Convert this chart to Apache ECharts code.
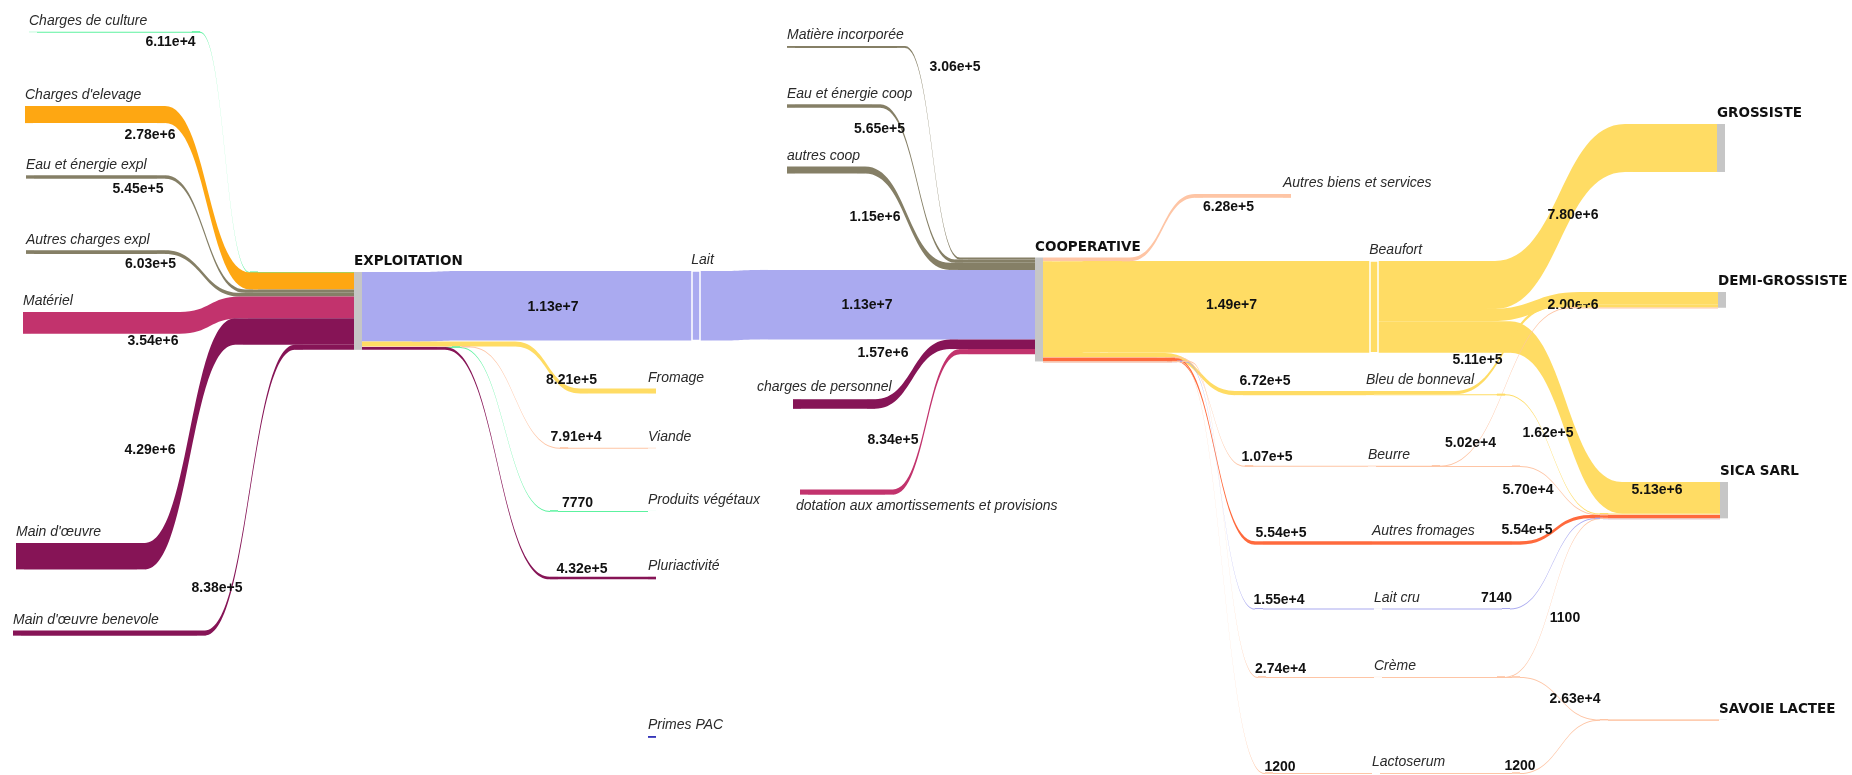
<!DOCTYPE html>
<html>
<head>
<meta charset="utf-8">
<script src="https://cdn.jsdelivr.net/npm/echarts@6/dist/echarts.min.js"></script>
<style>
  html, body { margin: 0; background: #fff; }
  #chart { width: 1852px; height: 775px; }
</style>
</head>
<body>
<div id="chart"></div>
<script>
// columns of the diagram, top to bottom inside each column
const colChargesExpl = ['Charges de culture', "Charges d'elevage", 'Eau et énergie expl', 'Autres charges expl', 'Matériel', "Main d'œuvre", "Main d'œuvre benevole"];
const colExploitation = ['EXPLOITATION'];
const colMiddle = ['Matière incorporée', 'Eau et énergie coop', 'autres coop', 'Lait', 'Fromage', 'Viande', 'Produits végétaux', 'Pluriactivité', 'charges de personnel', 'dotation aux amortissements et provisions', 'Primes PAC'];
const colCooperative = ['COOPERATIVE'];
const colProducts = ['Autres biens et services', 'Beaufort', 'Bleu de bonneval', 'Beurre', 'Autres fromages', 'Lait cru', 'Crème', 'Lactoserum'];
const colClients = ['GROSSISTE', 'DEMI-GROSSISTE', 'SICA SARL', 'SAVOIE LACTEE'];

// flows
const linkSource = [
  'Charges de culture', "Charges d'elevage", 'Eau et énergie expl', 'Autres charges expl', 'Matériel', "Main d'œuvre", "Main d'œuvre benevole",
  'EXPLOITATION', 'EXPLOITATION', 'EXPLOITATION', 'EXPLOITATION', 'EXPLOITATION',
  'Lait', 'Matière incorporée', 'Eau et énergie coop', 'autres coop', 'charges de personnel', 'dotation aux amortissements et provisions',
  'COOPERATIVE', 'COOPERATIVE', 'COOPERATIVE', 'COOPERATIVE', 'COOPERATIVE', 'COOPERATIVE', 'COOPERATIVE', 'COOPERATIVE',
  'Beaufort', 'Beaufort', 'Beaufort', 'Bleu de bonneval', 'Bleu de bonneval', 'Beurre', 'Beurre',
  'Autres fromages', 'Lait cru', 'Crème', 'Crème', 'Lactoserum'
];
const linkTarget = [
  'EXPLOITATION', 'EXPLOITATION', 'EXPLOITATION', 'EXPLOITATION', 'EXPLOITATION', 'EXPLOITATION', 'EXPLOITATION',
  'Lait', 'Fromage', 'Viande', 'Produits végétaux', 'Pluriactivité',
  'COOPERATIVE', 'COOPERATIVE', 'COOPERATIVE', 'COOPERATIVE', 'COOPERATIVE', 'COOPERATIVE',
  'Autres biens et services', 'Beaufort', 'Bleu de bonneval', 'Beurre', 'Autres fromages', 'Lait cru', 'Crème', 'Lactoserum',
  'GROSSISTE', 'DEMI-GROSSISTE', 'SICA SARL', 'DEMI-GROSSISTE', 'SICA SARL', 'DEMI-GROSSISTE', 'SICA SARL',
  'SICA SARL', 'SICA SARL', 'SICA SARL', 'SAVOIE LACTEE', 'SAVOIE LACTEE'
];
const linkValue = [
  6.11e4, 2.78e6, 5.45e5, 6.03e5, 3.54e6, 4.29e6, 8.38e5,
  1.13e7, 8.21e5, 7.91e4, 7770, 4.32e5,
  1.13e7, 3.06e5, 5.65e5, 1.15e6, 1.57e6, 8.34e5,
  6.28e5, 1.49e7, 6.72e5, 1.07e5, 5.54e5, 1.55e4, 2.74e4, 1200,
  7.80e6, 2.00e6, 5.13e6, 5.11e5, 1.62e5, 5.02e4, 5.70e4,
  5.54e5, 7140, 1100, 2.63e4, 1200
];
// node without any flow
const primesPacValue = 3e5;

// ---- layout (pixels in the 1852x775 page) ----
const pxPerUnit = 6.15e-6;
const nodePlacement = {
  'Charges de culture': [29, 31.8],
  "Charges d'elevage": [25, 106],
  'Eau et énergie expl': [26, 175.3],
  'Autres charges expl': [26, 250.2],
  'Matériel': [23, 312],
  "Main d'œuvre": [16, 543],
  "Main d'œuvre benevole": [13, 630.5],
  'EXPLOITATION': [354, 272],
  'Matière incorporée': [787, 46],
  'Eau et énergie coop': [787, 104.3],
  'autres coop': [787, 166.5],
  'Lait': [692, 271],
  'Fromage': [648, 388.5],
  'Viande': [648, 447.8],
  'Produits végétaux': [648, 510.9],
  'Pluriactivité': [648, 576.7],
  'charges de personnel': [793, 399.2],
  'dotation aux amortissements et provisions': [800, 489.5],
  'Primes PAC': [648, 736],
  'COOPERATIVE': [1035, 257.5],
  'Autres biens et services': [1283, 194],
  'Beaufort': [1370, 261],
  'Bleu de bonneval': [1366, 391],
  'Beurre': [1368, 465.7],
  'Autres fromages': [1372, 541.3],
  'Lait cru': [1374, 608.5],
  'Crème': [1374, 676.9],
  'Lactoserum': [1372, 773],
  'GROSSISTE': [1717, 124],
  'DEMI-GROSSISTE': [1718, 292],
  'SICA SARL': [1720, 482],
  'SAVOIE LACTEE': [1719, 719.5]
};

// x range where each flow bends; the flow runs flat before and after
const flowBend = {
  'Charges de culture>EXPLOITATION': [200, 250],
  "Charges d'elevage>EXPLOITATION": [165, 250],
  'Eau et énergie expl>EXPLOITATION': [165, 245],
  'Autres charges expl>EXPLOITATION': [165, 240],
  'Matériel>EXPLOITATION': [180, 240],
  "Main d'œuvre>EXPLOITATION": [145, 235],
  "Main d'œuvre benevole>EXPLOITATION": [205, 295],
  'EXPLOITATION>Lait': [420, 460],
  'EXPLOITATION>Fromage': [515, 580],
  'EXPLOITATION>Viande': [470, 560],
  'EXPLOITATION>Produits végétaux': [460, 550],
  'EXPLOITATION>Pluriactivité': [445, 550],
  'Lait>COOPERATIVE': [720, 760],
  'Matière incorporée>COOPERATIVE': [905, 960],
  'Eau et énergie coop>COOPERATIVE': [880, 955],
  'autres coop>COOPERATIVE': [865, 950],
  'charges de personnel>COOPERATIVE': [875, 950],
  'dotation aux amortissements et provisions>COOPERATIVE': [893, 960],
  'COOPERATIVE>Autres biens et services': [1130, 1195],
  'COOPERATIVE>Beaufort': [1060, 1100],
  'COOPERATIVE>Bleu de bonneval': [1165, 1235],
  'COOPERATIVE>Beurre': [1180, 1245],
  'COOPERATIVE>Autres fromages': [1175, 1255],
  'COOPERATIVE>Lait cru': [1185, 1255],
  'COOPERATIVE>Crème': [1190, 1258],
  'COOPERATIVE>Lactoserum': [1180, 1265],
  'Beaufort>GROSSISTE': [1495, 1625],
  'Beaufort>DEMI-GROSSISTE': [1490, 1580],
  'Beaufort>SICA SARL': [1510, 1622],
  'Bleu de bonneval>DEMI-GROSSISTE': [1455, 1555],
  'Bleu de bonneval>SICA SARL': [1505, 1600],
  'Beurre>DEMI-GROSSISTE': [1440, 1570],
  'Beurre>SICA SARL': [1520, 1600],
  'Autres fromages>SICA SARL': [1520, 1590],
  'Lait cru>SICA SARL': [1510, 1595],
  'Crème>SICA SARL': [1505, 1600],
  'Crème>SAVOIE LACTEE': [1520, 1600],
  'Lactoserum>SAVOIE LACTEE': [1520, 1600]
};

// where each value label sits (centre of the text)
const flowLabelAt = {
  'Charges de culture>EXPLOITATION': [170.5, 42],
  "Charges d'elevage>EXPLOITATION": [150, 135],
  'Eau et énergie expl>EXPLOITATION': [138, 189],
  'Autres charges expl>EXPLOITATION': [150.5, 264],
  'Matériel>EXPLOITATION': [153, 341],
  "Main d'œuvre>EXPLOITATION": [150, 450],
  "Main d'œuvre benevole>EXPLOITATION": [217, 588],
  'EXPLOITATION>Lait': [553, 307],
  'EXPLOITATION>Fromage': [571.5, 380],
  'EXPLOITATION>Viande': [576, 437],
  'EXPLOITATION>Produits végétaux': [577.5, 503],
  'EXPLOITATION>Pluriactivité': [582, 569],
  'Lait>COOPERATIVE': [867, 305],
  'Matière incorporée>COOPERATIVE': [955, 67],
  'Eau et énergie coop>COOPERATIVE': [879.5, 129],
  'autres coop>COOPERATIVE': [875, 217],
  'charges de personnel>COOPERATIVE': [883, 353],
  'dotation aux amortissements et provisions>COOPERATIVE': [893, 440],
  'COOPERATIVE>Autres biens et services': [1228.5, 207],
  'COOPERATIVE>Beaufort': [1231.5, 305],
  'COOPERATIVE>Bleu de bonneval': [1265, 381],
  'COOPERATIVE>Beurre': [1267, 457],
  'COOPERATIVE>Autres fromages': [1281, 533],
  'COOPERATIVE>Lait cru': [1279, 600],
  'COOPERATIVE>Crème': [1280.5, 669],
  'COOPERATIVE>Lactoserum': [1280, 767],
  'Beaufort>GROSSISTE': [1573, 215],
  'Beaufort>DEMI-GROSSISTE': [1573, 305],
  'Beaufort>SICA SARL': [1657, 490],
  'Bleu de bonneval>DEMI-GROSSISTE': [1477.5, 360],
  'Bleu de bonneval>SICA SARL': [1548, 433],
  'Beurre>DEMI-GROSSISTE': [1470.5, 443],
  'Beurre>SICA SARL': [1528, 490],
  'Autres fromages>SICA SARL': [1527, 530],
  'Lait cru>SICA SARL': [1496.5, 598],
  'Crème>SICA SARL': [1565, 618],
  'Crème>SAVOIE LACTEE': [1575, 699],
  'Lactoserum>SAVOIE LACTEE': [1520, 766]
};

const nodeLabelPos = {
  'charges de personnel': [-36, -12],
  'dotation aux amortissements et provisions': [-4, 16.5]
};

const grey = '#c6c6c6';
const olive = '#857f66';
const peach = '#fec5a5';
const yellow = '#ffdc64';
const lavender = '#aaaaf0';
const plum = '#861456';
const pink = '#c2336d';
const mint = '#5cf29f';
const nodeColor = {
  'Charges de culture': mint, "Charges d'elevage": '#fea712', 'Eau et énergie expl': olive, 'Autres charges expl': olive,
  'Matériel': pink, "Main d'œuvre": plum, "Main d'œuvre benevole": plum,
  'Matière incorporée': olive, 'Eau et énergie coop': olive, 'autres coop': olive,
  'Lait': lavender, 'Fromage': yellow, 'Viande': peach, 'Produits végétaux': mint, 'Pluriactivité': plum,
  'charges de personnel': plum, 'dotation aux amortissements et provisions': pink, 'Primes PAC': '#3535b8',
  'Autres biens et services': peach, 'Beaufort': yellow, 'Bleu de bonneval': yellow, 'Beurre': peach,
  'Autres fromages': '#ff6a3d', 'Lait cru': lavender, 'Crème': peach, 'Lactoserum': peach
};
const mainNodes = colExploitation.concat(colCooperative, colClients);

const fmt = (v) => (v >= 1e4 ? v.toExponential(2) : String(v));

// ---- build ----
const columns = [colChargesExpl, colExploitation, colMiddle, colCooperative, colProducts, colClients];
const colIndex = {}, rank = {};
columns.forEach((col, c) => col.forEach((n, r) => { colIndex[n] = c; rank[n] = r; }));

const inSum = {}, outSum = {};
linkValue.forEach((v, i) => {
  outSum[linkSource[i]] = (outSum[linkSource[i]] || 0) + v;
  inSum[linkTarget[i]] = (inSum[linkTarget[i]] || 0) + v;
});
const nodeTotal = (n) => Math.max(inSum[n] || 0, outSum[n] || 0, n === 'Primes PAC' ? primesPacValue : 0);

// each flow is drawn as flat -> bend -> flat through two helper nodes,
// so every real column takes 3 depths of the library layout
const order = linkValue.map((_, i) => i).sort((a, b) =>
  colIndex[linkSource[a]] - colIndex[linkSource[b]] ||
  rank[linkSource[a]] - rank[linkSource[b]] ||
  rank[linkTarget[a]] - rank[linkTarget[b]]);

const depthSums = {};
columns.forEach((col, c) => { depthSums[3 * c] = col.reduce((s, n) => s + nodeTotal(n), 0); });
order.forEach((i) => {
  const c = colIndex[linkSource[i]];
  depthSums[3 * c + 1] = (depthSums[3 * c + 1] || 0) + linkValue[i];
  depthSums[3 * c + 2] = (depthSums[3 * c + 2] || 0) + linkValue[i];
});
const boxW = 1852;
const boxH = pxPerUnit * Math.max(...Object.values(depthSums));

// stacking offsets of each flow inside its end nodes
const sy = {}, ty = {}, outAcc = {}, inAcc = {};
order.forEach((i) => {
  const s = linkSource[i], t = linkTarget[i], d = linkValue[i] * pxPerUnit;
  sy[i] = outAcc[s] || 0; outAcc[s] = sy[i] + d;
  ty[i] = inAcc[t] || 0; inAcc[t] = ty[i] + d;
});

const nodes = [];
columns.forEach((col, c) => {
  col.forEach((name) => {
    const isMain = mainNodes.includes(name);
    const lens = name === 'Lait' || name === 'Beaufort';
    const p = nodePlacement[name];
    const item = {
      name,
      depth: 3 * c,
      localX: p[0] / boxW,
      localY: p[1] / boxH,
      itemStyle: {
        color: isMain ? grey : nodeColor[name],
        borderColor: lens ? '#fff' : undefined,
        borderWidth: lens ? 1.5 : 0
      },
      label: isMain
        ? { fontFamily: 'DejaVu Sans', fontWeight: 'bold', fontStyle: 'normal', fontSize: 13.5, color: '#111' }
        : {}
    };
    if (name === 'Primes PAC') item.value = primesPacValue;
    if (nodeLabelPos[name]) item.label.position = nodeLabelPos[name];
    nodes.push(item);
  });
});

const links = [];
order.forEach((i) => {
  const s = linkSource[i], t = linkTarget[i], v = linkValue[i];
  const key = s + '>' + t;
  const c = colIndex[s];
  const color = mainNodes.includes(s) ? nodeColor[t] : nodeColor[s];
  const d = v * pxPerUnit;
  const ext = Math.max(1, d);
  const [xa, xb] = flowBend[key];
  const yA = nodePlacement[s][1] + sy[i];
  const yB = nodePlacement[t][1] + ty[i];
  const helperStyle = { color, borderColor: color, borderWidth: d < 1 ? 1 : 0 };
  const a = 'wp' + i + 'a', b = 'wp' + i + 'b';
  nodes.push({ name: a, depth: 3 * c + 1, localX: (xa - 8) / boxW, localY: yA / boxH, itemStyle: helperStyle, label: { show: false } });
  nodes.push({ name: b, depth: 3 * c + 2, localX: xb / boxW, localY: yB / boxH, itemStyle: helperStyle, label: { show: false } });

  // the value label goes on the piece of the flow it stands over
  const at = flowLabelAt[key];
  const x0 = nodePlacement[s][0] + 8, x3 = nodePlacement[t][0];
  const centres = [
    [(x0 + xa - 8) / 2, yA + ext / 2],
    [(xa + xb) / 2, (yA + yB) / 2 + ext / 2],
    [(xb + 8 + x3) / 2, yB + ext / 2]
  ];
  const seg = at[0] < xa - 8 ? 0 : (at[0] <= xb ? 1 : 2);
  const ends = [[s, a], [a, b], [b, t]];
  ends.forEach((e, k) => {
    links.push({
      source: e[0],
      target: e[1],
      value: v,
      lineStyle: { color },
      edgeLabel: k === seg
        ? { show: true, offset: [at[0] - centres[k][0], at[1] - centres[k][1]] }
        : { show: false }
    });
  });
});

const chart = echarts.init(document.getElementById('chart'));
chart.setOption({
  backgroundColor: '#fff',
  animation: false,
  series: [{
    type: 'sankey',
    left: 0,
    top: 0,
    width: boxW,
    height: boxH,
    nodeWidth: 8,
    nodeGap: 0,
    layoutIterations: 0,
    nodeAlign: 'left',
    draggable: false,
    emphasis: { disabled: true },
    data: nodes,
    links: links,
    lineStyle: { curveness: 0.5, opacity: 1 },
    label: {
      show: true,
      position: [0, -10.5],
      align: 'left',
      verticalAlign: 'middle',
      fontFamily: 'Liberation Sans',
      fontStyle: 'italic',
      fontSize: 14,
      color: '#2a2a2a',
      textBorderWidth: 0
    },
    edgeLabel: {
      show: true,
      fontFamily: 'Liberation Sans',
      fontWeight: 'bold',
      fontSize: 14,
      color: '#111',
      textBorderWidth: 0,
      formatter: (p) => fmt(p.value)
    }
  }]
});
</script>
</body>
</html>
